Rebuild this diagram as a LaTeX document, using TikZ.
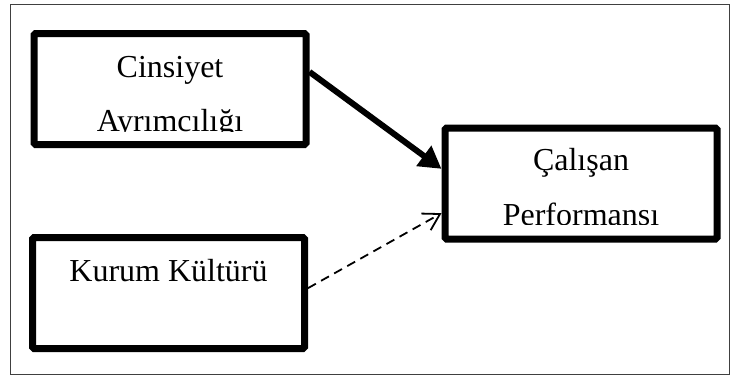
\documentclass[tikz,border=0pt]{standalone}
\usepackage{fontspec}
\setmainfont{Liberation Serif}
\usetikzlibrary{arrows.meta, positioning, calc}

\begin{document}
\begin{tikzpicture}[
    x=1pt, y=-1pt,
    konstrukt/.style={draw, line width=7pt, rounded corners=1.5pt, minimum width=272pt, minimum height=111pt, inner sep=0pt},
    yazi/.style={anchor=base, inner sep=0pt, font=\fontsize{32}{38}\selectfont},
    etki/.style={-{Triangle[length=22pt, width=24pt]}, line width=6pt},
    zayif/.style={-{Straight Barb[length=16pt, width=19pt, line width=1.8pt]}, line width=1.8pt, dash pattern=on 9pt off 6pt}
]
    \useasboundingbox (0,0) rectangle (733,376);
    \draw[black!75, line width=1pt] (10,4) rectangle (729,374);

    \node[konstrukt] (cinsiyet) at (170,89) {};
    \node[konstrukt] (calisan)  at (581,183.5) {};
    \node[konstrukt] (kurum)    at (168.5,293) {};

    % metinler kutunun icinde kirpiliyor
    \begin{scope}
        \clip (38,38) rectangle (302,131);
        \node[yazi] (cinsiyet1) at (170,77)  {Cinsiyet};
        \node[yazi] (cinsiyet2) at (170,131) {Ayrımcılığı};
    \end{scope}
    \begin{scope}
        \clip (449,132) rectangle (713,224.5);
        \node[yazi] (calisan1) at (581,170) {Çalışan};
        \node[yazi] (calisan2) at (581,225) {Performansı};
    \end{scope}
    \node[yazi] (kurum1) at (168.5,281) {Kurum Kültürü};

    \draw[etki]  (cinsiyet.7) -- (calisan.174);
    \draw[zayif] (kurum.2) -- (calisan.192);
\end{tikzpicture}
\end{document}
